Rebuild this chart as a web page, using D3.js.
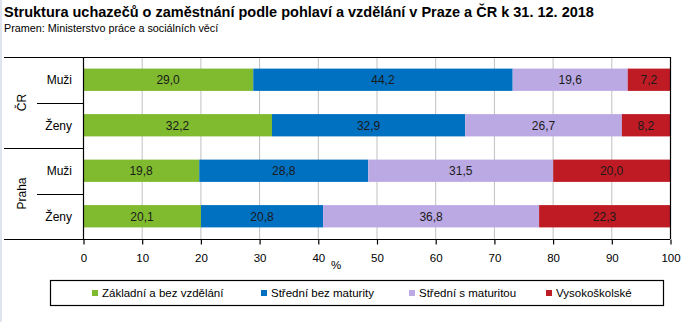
<!DOCTYPE html>
<html>
<head>
<meta charset="utf-8">
<script src="https://cdn.jsdelivr.net/npm/d3@7"></script>
<style>
  html, body { margin: 0; padding: 0; background: #fff; }
  svg { display: block; font-family: "Liberation Sans", Arial, sans-serif; }
</style>
</head>
<body>
<svg id="chart" width="691" height="322"></svg>
<script>
// Regions and rows (top to bottom)
const regions = ["ČR", "Praha"];
const rows = [
  { region: "ČR", sex: "Muži" },
  { region: "ČR", sex: "Ženy" },
  { region: "Praha", sex: "Muži" },
  { region: "Praha", sex: "Ženy" }
];
// Education levels (series)
const series = ["Základní a bez vzdělání", "Střední bez maturity", "Střední s maturitou", "Vysokoškolské"];
const colors = ["#80ba2f", "#0070c0", "#bba9e4", "#bf1b24"];
// Percent shares per row, in series order
const zakladni = [29.0, 32.2, 19.8, 20.1];
const stredniBez = [44.2, 32.9, 28.8, 20.8];
const stredniS = [19.6, 26.7, 31.5, 36.8];
const vysokoskolske = [7.2, 8.2, 20.0, 22.3];
const xTicks = [0, 10, 20, 30, 40, 50, 60, 70, 80, 90, 100];

const values = [zakladni, stredniBez, stredniS, vysokoskolske];
const table = rows.map((r, i) => {
  const o = { key: i, region: r.region, sex: r.sex };
  series.forEach((s, j) => { o[s] = values[j][i]; });
  return o;
});

const svg = d3.select("#chart");
const plotL = 83, plotR = 670, plotT = 57, plotB = 239;

// light strip along the left edge
svg.append("rect").attr("x", 0).attr("y", 0).attr("width", 2).attr("height", 322).attr("fill", "#dfe5ee");

svg.append("text").attr("x", 4).attr("y", 17)
  .attr("font-size", 14.5).attr("font-weight", "bold").attr("fill", "#000")
  .text("Struktura uchazečů o zaměstnání podle pohlaví a vzdělání v Praze a ČR k 31. 12. 2018");
svg.append("text").attr("x", 4).attr("y", 32)
  .attr("font-size", 10.8).attr("fill", "#000")
  .text("Pramen: Ministerstvo práce a sociálních věcí");

const x = d3.scaleLinear().domain([0, 100]).range([plotL, plotR]);
const y = d3.scaleBand().domain(table.map(d => d.key)).range([plotT, plotB]).paddingInner(0.51).paddingOuter(0.255);

// vertical gridlines
svg.append("g").selectAll("line").data(xTicks.filter(t => t > 0 && t < 100)).join("line")
  .attr("x1", d => x(d) + 0.5).attr("x2", d => x(d) + 0.5)
  .attr("y1", plotT).attr("y2", plotB)
  .attr("stroke", "#c0c0c0").attr("stroke-width", 1);

// stacked bars
const stack = d3.stack().keys(series)(table);
const layer = svg.append("g").selectAll("g").data(stack).join("g")
  .attr("fill", (d, i) => colors[i]);
layer.selectAll("rect").data(d => d).join("rect")
  .attr("x", d => x(d[0]))
  .attr("width", d => Math.min(x(d[1]), plotR) - x(d[0]))
  .attr("y", d => y(d.data.key))
  .attr("height", y.bandwidth());

// value labels centred in each segment
const lab = svg.append("g").attr("font-size", 12).attr("fill", "#1a1a1a").attr("text-anchor", "middle");
stack.forEach(s => {
  s.forEach(d => {
    lab.append("text")
      .attr("x", (x(d[0]) + Math.min(x(d[1]), plotR)) / 2)
      .attr("y", y(d.data.key) + y.bandwidth() / 2)
      .attr("dy", "0.36em")
      .text(d3.format(".1f")(d[1] - d[0]).replace(".", ","));
  });
});

// frame lines
const ln = svg.append("g").attr("stroke", "#000").attr("stroke-width", 1.2);
ln.append("line").attr("x1", 4).attr("x2", plotR).attr("y1", plotT + 0.5).attr("y2", plotT + 0.5);
ln.append("line").attr("x1", plotL + 0.5).attr("x2", plotL + 0.5).attr("y1", plotT).attr("y2", plotB);
ln.append("line").attr("x1", plotR + 0.5).attr("x2", plotR + 0.5).attr("y1", plotT).attr("y2", plotB);

// x axis
const xAxis = d3.axisBottom(x).tickValues(xTicks).tickSize(5).tickPadding(9).tickFormat(d3.format("d"));
const ax = svg.append("g").attr("transform", `translate(0.5,${plotB + 0.5})`).call(xAxis);
ax.select(".domain").remove();
ax.selectAll(".tick line").attr("stroke", "#000").attr("stroke-width", 1.2);
ax.selectAll(".tick text").attr("font-size", 11.5).attr("fill", "#000").attr("font-family", "Liberation Sans, Arial, sans-serif");
svg.append("line").attr("x1", 4).attr("x2", plotR).attr("y1", plotB + 0.5).attr("y2", plotB + 0.5)
  .attr("stroke", "#000").attr("stroke-width", 1.2);
svg.append("text").attr("x", 336).attr("y", 269).attr("text-anchor", "middle")
  .attr("font-size", 11.5).attr("fill", "#000").text("%");

// row labels
svg.append("g").selectAll("text").data(table).join("text")
  .attr("x", 72).attr("y", d => y(d.key) + y.bandwidth() / 2).attr("dy", "0.36em")
  .attr("text-anchor", "end").attr("font-size", 12).attr("fill", "#000")
  .text(d => d.sex);

// region group labels and separators
const step = y.step();
regions.forEach((r, gi) => {
  const keys = table.filter(d => d.region === r).map(d => d.key);
  const y0 = plotT + keys[0] * step, y1 = plotT + (keys[keys.length - 1] + 1) * step;
  const mid = (y0 + y1) / 2;
  svg.append("text")
    .attr("transform", `translate(22,${mid}) rotate(-90)`)
    .attr("text-anchor", "middle").attr("dy", "0.36em")
    .attr("font-size", 12).attr("fill", "#000").text(r);
  svg.append("line").attr("x1", 37).attr("x2", plotL).attr("y1", Math.round(mid) + 0.5).attr("y2", Math.round(mid) + 0.5)
    .attr("stroke", "#000").attr("stroke-width", 1.2);
  if (gi < regions.length - 1) {
    svg.append("line").attr("x1", 4).attr("x2", plotL).attr("y1", Math.round(y1) + 0.5).attr("y2", Math.round(y1) + 0.5)
      .attr("stroke", "#000").attr("stroke-width", 1.2);
  }
});

// legend
svg.append("rect").attr("x", 50.5).attr("y", 280.5).attr("width", 613).attr("height", 25)
  .attr("fill", "#fff").attr("stroke", "#000").attr("stroke-width", 1.2);
const legX = [92, 261, 409, 546];
const leg = svg.append("g").selectAll("g").data(series).join("g")
  .attr("transform", (d, i) => `translate(${legX[i]},293)`);
leg.append("rect").attr("x", 0).attr("y", -3).attr("width", 6).attr("height", 6)
  .attr("fill", (d, i) => colors[i]);
leg.append("text").attr("x", 10).attr("dy", "0.36em")
  .attr("font-size", 11.5).attr("fill", "#000").text(d => d);
</script>
</body>
</html>
